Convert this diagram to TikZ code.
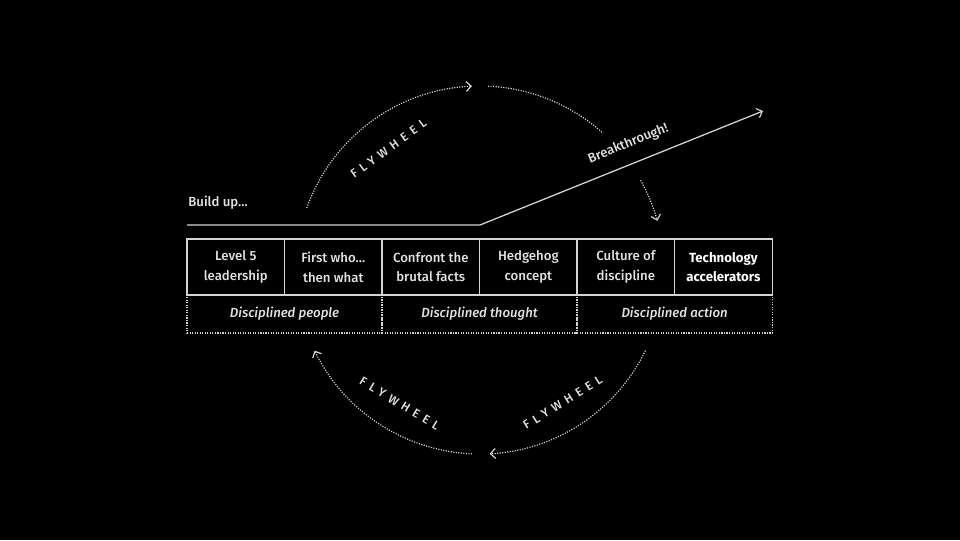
\documentclass[tikz,border=0pt]{standalone}
\usepackage{fontspec}
\setmainfont{Fira Sans}[UprightFont={* Medium}, ItalicFont={* Medium Italic},
  BoldFont={* Bold}]
\usetikzlibrary{positioning, calc, arrows.meta}
\definecolor{fwLine}{HTML}{D4D4D4}
\definecolor{fwText}{HTML}{E2E2E2}
\definecolor{fwBold}{HTML}{FFFFFF}

\tikzset{
  cell/.style={draw=fwLine, line width=0.9pt, minimum width=2.4375cm,
    minimum height=1.4cm, inner sep=0pt, outer sep=0pt, align=center,
    text=fwText, font=\fontsize{9.4pt}{14pt}\selectfont},
  groupcell/.style={draw=fwLine, line width=0.9pt, dash pattern=on 0.8pt off 1pt,
    minimum width=4.875cm, minimum height=0.95cm, inner sep=0pt, outer sep=0pt,
    text=fwText, font=\fontsize{9.4pt}{12pt}\selectfont\itshape},
  flow/.style={fwLine, line width=0.85pt, dash pattern=on 0.8pt off 1pt},
  trail/.style={fwLine, line width=0.9pt},
  tip/.style={-{Straight Barb[length=3.5pt, width=7pt, line width=0.85pt]}},
  wheeltext/.style={text=fwText, font=\fontsize{8.6pt}{10pt}\selectfont\addfontfeature{LetterSpace=42}},
  plain/.style={text=fwText, font=\fontsize{9.4pt}{12pt}\selectfont}
}

\begin{document}
\begin{tikzpicture}[x=0.025cm, y=0.025cm]
  \fill[black] (0,0) rectangle (960,540);
  \useasboundingbox (0,0) rectangle (960,540);
  \coordinate (c) at (480,270);

  % the six principles and their three stages
  \node[groupcell, anchor=north west] (people) at (187,245) {Disciplined people};
  \node[groupcell, right=0pt of people] (thought) {Disciplined thought};
  \node[groupcell, right=0pt of thought] (action) {Disciplined action};

  \node[cell, anchor=north west] (lvl) at (187,301) {Level 5\\leadership};
  \node[cell, right=0pt of lvl] (who) {First who...\\then what};
  \node[cell, right=0pt of who] (facts) {Confront the\\brutal facts};
  \node[cell, right=0pt of facts] (hog) {Hedgehog\\concept};
  \node[cell, right=0pt of hog] (culture) {Culture of\\discipline};
  \node[cell, right=0pt of culture, font=\fontsize{9.4pt}{14pt}\selectfont\bfseries, text=fwBold] (tech) {Technology\\accelerators};

  % build up and breakthrough
  \node[plain, anchor=west, inner sep=0pt] (build) at (188,337) {Build up...};
  \coordinate (start) at (187,315);
  \coordinate (bend) at (480,315);
  \coordinate (peak) at (763,429);
  \draw[trail, tip] (start) -- (bend) -- (peak)
    node[plain, pos=0.55, sloped, above=0.2cm] (brk) {Breakthrough!};

  % flywheel
  \draw[flow, tip] (c) ++(160.3:184) arc[start angle=160.3, end angle=92.5, radius=184];
  \draw[flow] (c) ++(87.5:184) arc[start angle=87.5, end angle=48, radius=184];
  \draw[flow, tip] (c) ++(29.2:184) arc[start angle=29.2, end angle=15.5, radius=184];
  \draw[flow, tip] (c) ++(-26:184) arc[start angle=-26, end angle=-87, radius=184];
  \draw[flow, tip] (c) ++(-92.5:184) arc[start angle=-92.5, end angle=-154, radius=184];

  \node[wheeltext, rotate=36] (fwTop) at ($(c)+(127:152)$) {FLYWHEEL};
  \node[wheeltext, rotate=-31] (fwLeft) at ($(c)+(-121:156)$) {FLYWHEEL};
  \node[wheeltext, rotate=32] (fwRight) at ($(c)+(-58:156)$) {FLYWHEEL};
\end{tikzpicture}
\end{document}
